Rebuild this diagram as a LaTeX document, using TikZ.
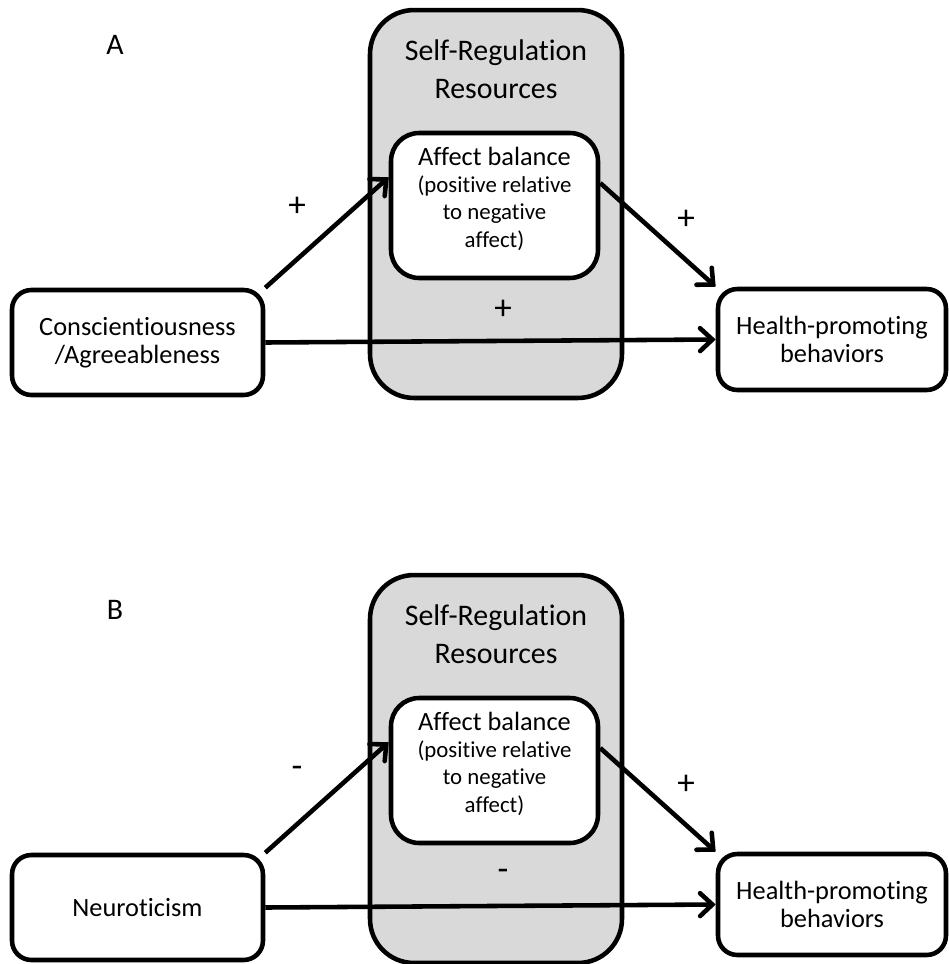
\documentclass[tikz,border=0pt]{standalone}
\usepackage{fontspec}
\setmainfont{Carlito}[Ligatures=NoCommon]
\usetikzlibrary{arrows.meta}

\definecolor{srgray}{HTML}{D9D9D9}

\tikzset{
    box/.style={draw, fill=white, align=flush center, inner sep=0pt,
        font=\fontsize{15}{16}\selectfont},
    sign/.style={font=\fontsize{20}{20}\selectfont},
}

\begin{document}
\begin{tikzpicture}[x=0.02cm, y=-0.02cm, line width=2.6pt,
    >={Straight Barb[length=7pt, width=13pt, line cap=round]}]

    \useasboundingbox (0,0) rectangle (949,964);

    \foreach \dy/\tag/\src/\sa/\sc in {
        0/A/{Conscientiousness\\/Agreeableness}/+/+,
        565/B/{Neuroticism}/-/-
    }{
        % panel letter
        \node[font=\fontsize{17}{17}\selectfont] (tag\tag) at (115,45+\dy) {\tag};

        % self-regulation resources
        \node[draw, fill=srgray, rounded corners=25pt,
            minimum width=5.04cm, minimum height=7.76cm]
            (res\tag) at (496,204+\dy) {};
        \node[align=flush center, text width=4.6cm, inner sep=0pt,
            font=\fontsize{17}{21.5}\selectfont]
            (title\tag) at (496,69+\dy) {Self-Regulation\\Resources};

        % boxes
        \node[box, rounded corners=16pt, minimum width=4.14cm,
            minimum height=2.9cm]
            (aff\tag) at (494.5,205.5+\dy) {};
        \node[align=flush center, text width=4cm, inner sep=0pt,
            font=\fontsize{15}{16}\selectfont]
            (afftext\tag) at (494.5,199+\dy)
            {Affect balance\\\fontsize{13}{15.4}\selectfont
             (positive relative\\to negative\\affect)};
        \node[box, rounded corners=11pt, text width=5.02cm,
            minimum height=2.1cm]
            (src\tag) at (137.5,342.5+\dy) {\src};
        \node[box, rounded corners=11pt, text width=4.56cm,
            minimum height=2.02cm]
            (hlth\tag) at (832,339.5+\dy) {Health-promoting\\behaviors};

        % paths
        \draw[->] (src\tag.north east) -- (aff\tag.165);
        \draw[->] (aff\tag.12) -- (hlth\tag.north west);
        \draw[->] (src\tag.east) -- (hlth\tag.west);

        % signs
        \node[sign] (sa\tag) at (297,207+\dy) {\sa};
        \node[sign] (sb\tag) at (686,220+\dy) {+};
        \node[sign] (sc\tag) at (503,310+\dy) {\sc};
    }
\end{tikzpicture}
\end{document}
